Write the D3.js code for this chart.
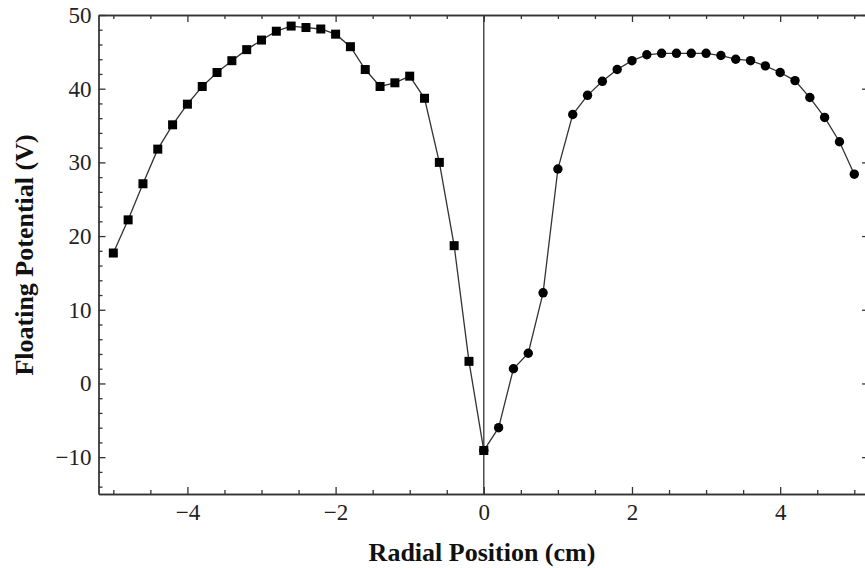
<!DOCTYPE html>
<html>
<head>
<meta charset="utf-8">
<script src="https://cdn.jsdelivr.net/npm/d3@7"></script>
<style>
  body { margin: 0; background: #fff; }
  svg { display: block; font-family: "Liberation Serif", "DejaVu Serif", serif; }
  .axis path, .axis line { stroke: #333; stroke-width: 1.3; }
  .axis text { font-family: "Liberation Serif", serif; font-size: 23px; fill: #222; }
</style>
</head>
<body>
<div id="chart-container"></div>
<script>
// radial positions (cm)
const leftX = [-5.0, -4.8, -4.6, -4.4, -4.2, -4.0, -3.8, -3.6, -3.4, -3.2, -3.0, -2.8, -2.6,
               -2.4, -2.2, -2.0, -1.8, -1.6, -1.4, -1.2, -1.0, -0.8, -0.6, -0.4, -0.2, 0.0];
const leftV = [17.7, 22.2, 27.1, 31.8, 35.1, 37.9, 40.3, 42.2, 43.8, 45.3, 46.6, 47.8, 48.5,
               48.3, 48.1, 47.4, 45.7, 42.6, 40.3, 40.8, 41.7, 38.7, 30.0, 18.7, 3.0, -9.1];

const rightX = [0.0, 0.2, 0.4, 0.6, 0.8, 1.0, 1.2, 1.4, 1.6, 1.8, 2.0, 2.2, 2.4,
                2.6, 2.8, 3.0, 3.2, 3.4, 3.6, 3.8, 4.0, 4.2, 4.4, 4.6, 4.8, 5.0];
const rightV = [-9.1, -6.0, 2.0, 4.1, 12.3, 29.1, 36.5, 39.1, 41.0, 42.6, 43.8, 44.6, 44.8,
                44.8, 44.8, 44.8, 44.5, 44.0, 43.8, 43.1, 42.2, 41.1, 38.8, 36.1, 32.8, 28.4];

const xMajor = [-4, -2, 0, 2, 4];
const xMinor = [-5, -4.5, -3.5, -3, -2.5, -1.5, -1, -0.5, 0.5, 1, 1.5, 2.5, 3, 3.5, 4.5, 5];
const yMajor = [-10, 0, 10, 20, 30, 40, 50];
const yMinor = [-14, -12, -8, -6, -4, -2, 2, 4, 6, 8, 12, 14, 16, 18, 22, 24, 26, 28,
                32, 34, 36, 38, 42, 44, 46, 48];

const W = 865, H = 568;
const margin = { top: 15, left: 98.5 };
const w = 770.6, h = 479;

const svg = d3.select("#chart-container")
  .append("svg")
  .attr("width", W)
  .attr("height", H);

const g = svg.append("g")
  .attr("transform", `translate(${margin.left},${margin.top})`);

const x = d3.scaleLinear().domain([-5.2, 5.2]).range([0, w]);
const y = d3.scaleLinear().domain([-15, 50]).range([h, 0]);

const fmt = d => d < 0 ? "\u2212" + Math.abs(d) : String(d);

// bottom axis
g.append("g").attr("class", "axis").attr("transform", `translate(0,${h})`)
  .call(d3.axisBottom(x).tickValues(xMinor).tickSizeInner(-4).tickSizeOuter(0).tickFormat(""));
g.append("g").attr("class", "axis").attr("transform", `translate(0,${h})`)
  .call(d3.axisBottom(x).tickValues(xMajor).tickSizeInner(-7).tickSizeOuter(0).tickPadding(10).tickFormat(fmt));

// top axis
g.append("g").attr("class", "axis")
  .call(d3.axisTop(x).tickValues(xMinor).tickSizeInner(-4).tickSizeOuter(0).tickFormat(""));
g.append("g").attr("class", "axis")
  .call(d3.axisTop(x).tickValues(xMajor).tickSizeInner(-7).tickSizeOuter(0).tickFormat(""));

// left axis
g.append("g").attr("class", "axis")
  .call(d3.axisLeft(y).tickValues(yMinor).tickSizeInner(-4).tickSizeOuter(0).tickFormat(""));
g.append("g").attr("class", "axis")
  .call(d3.axisLeft(y).tickValues(yMajor).tickSizeInner(-7).tickSizeOuter(0).tickPadding(7).tickFormat(fmt));

// right axis
g.append("g").attr("class", "axis").attr("transform", `translate(${w},0)`)
  .call(d3.axisRight(y).tickValues(yMinor).tickSizeInner(-4).tickSizeOuter(0).tickFormat(""));
g.append("g").attr("class", "axis").attr("transform", `translate(${w},0)`)
  .call(d3.axisRight(y).tickValues(yMajor).tickSizeInner(-7).tickSizeOuter(0).tickFormat(""));

// vertical line at zero
g.append("line")
  .attr("x1", x(0)).attr("x2", x(0))
  .attr("y1", 0).attr("y2", h)
  .attr("stroke", "#333").attr("stroke-width", 1.3);

const line = d3.line()
  .x(d => x(d[0]))
  .y(d => y(d[1]));

const leftPts = leftX.map((v, i) => [v, leftV[i]]);
const rightPts = rightX.map((v, i) => [v, rightV[i]]);

[leftPts, rightPts].forEach(pts => {
  g.append("path")
    .datum(pts)
    .attr("fill", "none")
    .attr("stroke", "#333")
    .attr("stroke-width", 1.3)
    .attr("d", line);
});

// circles (right side)
g.selectAll(".dot")
  .data(rightPts)
  .join("circle")
  .attr("class", "dot")
  .attr("cx", d => x(d[0]))
  .attr("cy", d => y(d[1]))
  .attr("r", 4.7)
  .attr("fill", "#000");

// squares (left side)
const s = 9;
g.selectAll(".sq")
  .data(leftPts)
  .join("rect")
  .attr("class", "sq")
  .attr("x", d => x(d[0]) - s / 2)
  .attr("y", d => y(d[1]) - s / 2)
  .attr("width", s)
  .attr("height", s)
  .attr("fill", "#000");

// axis labels
svg.append("text")
  .attr("x", 482).attr("y", 561)
  .attr("text-anchor", "middle")
  .attr("font-size", 26)
  .attr("font-weight", "bold")
  .attr("fill", "#111")
  .text("Radial Position (cm)");

svg.append("text")
  .attr("transform", "translate(33,255) rotate(-90)")
  .attr("text-anchor", "middle")
  .attr("font-size", 26)
  .attr("font-weight", "bold")
  .attr("fill", "#111")
  .text("Floating Potential (V)");
</script>
</body>
</html>
